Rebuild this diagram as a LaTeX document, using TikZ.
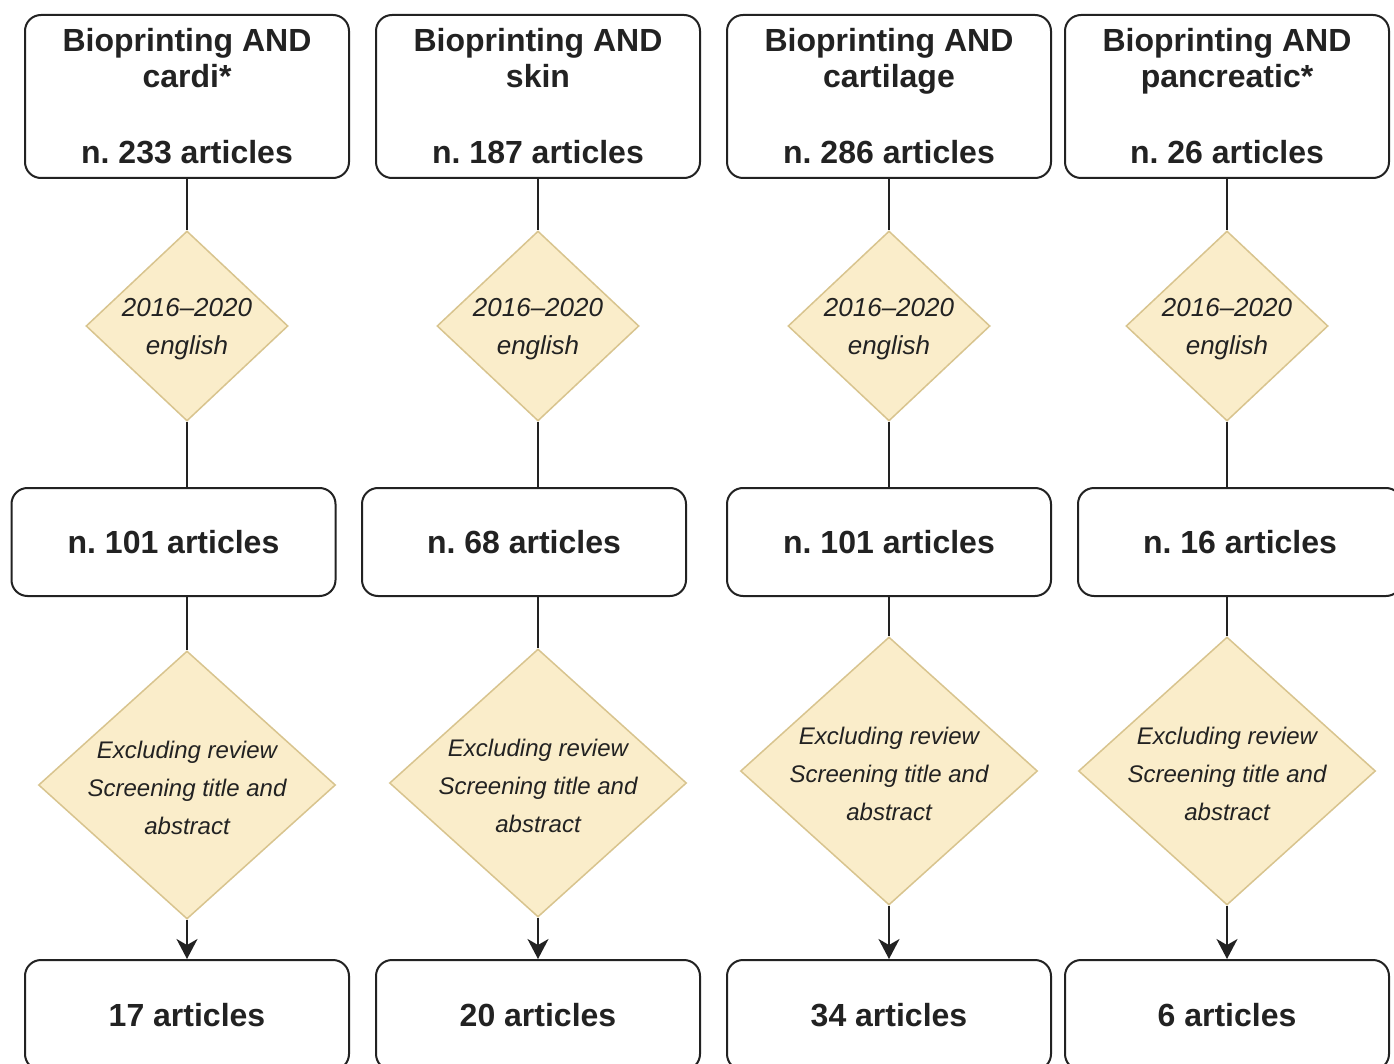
\documentclass[tikz,border=0pt]{standalone}
\usepackage{fontspec}
\setmainfont{Liberation Sans}
\usetikzlibrary{shapes.geometric,arrows.meta}
\definecolor{txt}{HTML}{222222}
\definecolor{dfill}{HTML}{FAEDCA}
\definecolor{ddraw}{HTML}{D8C48E}
\frenchspacing
\begin{document}
\begin{tikzpicture}[x=1pt,y=-1pt,
 topbox/.style={draw=txt, line width=2pt, rounded corners=16pt, minimum width=324pt, minimum height=163pt, inner sep=0pt, align=center, font=\bfseries\fontsize{32}{36}\selectfont, text=txt},
 midbox/.style={topbox, minimum height=108pt},
 botbox/.style={topbox, minimum height=110pt},
 sdia/.style={diamond, draw=ddraw, fill=dfill, line width=1.5pt, minimum width=202pt, minimum height=190pt, inner sep=0pt},
 bdia/.style={sdia, minimum width=297pt, minimum height=268pt},
 stext/.style={align=center, font=\itshape\fontsize{26}{38}\selectfont, text=txt, inner sep=0pt},
 btext/.style={stext, font=\itshape\fontsize{24}{38}\selectfont},
 conn/.style={draw=txt, line width=2pt},
 arr/.style={conn, -{Stealth[length=20pt,width=21pt,inset=6pt]}}
]
\clip (0,0) rectangle (1394,1064);
\fill[white] (0,0) rectangle (1394,1064);

% top boxes
\node[topbox] (t1) at (187,96.5) {Bioprinting AND\\cardi*\\[40pt]n. 233 articles};
\node[topbox] (t2) at (538,96.5) {Bioprinting AND\\skin\\[40pt]n. 187 articles};
\node[topbox] (t3) at (889,96.5) {Bioprinting AND\\cartilage\\[40pt]n. 286 articles};
\node[topbox] (t4) at (1227,96.5) {Bioprinting AND\\pancreatic*\\[40pt]n. 26 articles};

% small diamonds
\foreach \i/\x in {1/187,2/538,3/889,4/1227}{
  \node[sdia] (s\i) at (\x,326) {};
  \node[stext] (st\i) at (\x,329) {2016–2020\\english};
}

% middle boxes
\node[midbox] (m1) at (173.5,542) {n. 101 articles};
\node[midbox] (m2) at (524,542) {n. 68 articles};
\node[midbox] (m3) at (889,542) {n. 101 articles};
\node[midbox] (m4) at (1240,542) {n. 16 articles};

% big diamonds
\node[bdia] (b1) at (187,785) {};
\node[btext] (bt1) at (187,788) {Excluding review\\Screening title and\\abstract};
\node[bdia] (b2) at (538,783) {};
\node[btext] (bt2) at (538,786) {Excluding review\\Screening title and\\abstract};
\node[bdia] (b3) at (889,771) {};
\node[btext] (bt3) at (889,774) {Excluding review\\Screening title and\\abstract};
\node[bdia] (b4) at (1227,771) {};
\node[btext] (bt4) at (1227,774) {Excluding review\\Screening title and\\abstract};

% bottom boxes
\node[botbox] (e1) at (187,1015) {17 articles};
\node[botbox] (e2) at (538,1015) {20 articles};
\node[botbox] (e3) at (889,1015) {34 articles};
\node[botbox] (e4) at (1227,1015) {6 articles};

% connectors
\foreach \i in {1,2,3,4}{
  \draw[conn] (t\i.south) -- (s\i.north);
  \draw[conn] (s\i.south) -- (s\i.south |- m\i.north);
  \draw[conn] (b\i.north |- m\i.south) -- (b\i.north);
  \draw[arr] (b\i.south) -- (b\i.south |- e\i.north);
}
\end{tikzpicture}
\end{document}
